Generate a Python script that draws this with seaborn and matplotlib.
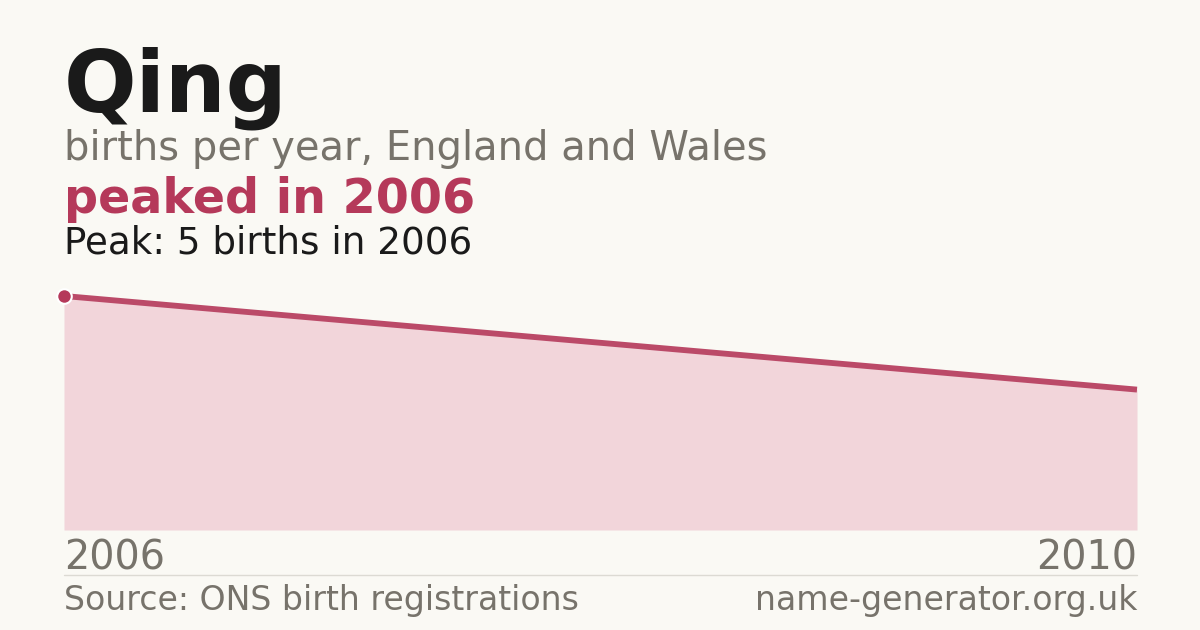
import numpy as np
import pandas as pd
import matplotlib
matplotlib.use('Agg')
import matplotlib.pyplot as plt
import seaborn as sns

# data
years = [2006, 2010]
births = [5, 3]
peak_year = 2006
peak_value = 5

name = 'Qing'
subtitle = 'births per year, England and Wales'
headline = 'peaked in 2006'
peak_note = 'Peak: 5 births in 2006'
source = 'Source: ONS birth registrations'
site = 'name-generator.org.uk'

bg = '#faf9f4'
red = '#b5395a'
fill = '#f2d5da'
grey = '#77736b'
dark = '#1a1a1a'

sns.set_theme(style='white')
plt.rcParams['font.family'] = ['DejaVu Sans']

W, H = 1200, 630
fig = plt.figure(figsize=(12, 6.3), dpi=100, facecolor=bg)

# axes placed in pixel terms: x 64..1137, y 296 (value 5) .. 530 (value 0)
ax = fig.add_axes([64 / W, 1 - 530 / H, (1137 - 64) / W, (530 - 296) / H])
ax.set_facecolor(bg)
df = pd.DataFrame({'year': years, 'births': births})
ax.fill_between(df['year'], df['births'], 0, color=fill, lw=0)
sns.lineplot(data=df, x='year', y='births', ax=ax, color='#bb4a68', lw=4.2,
             clip_on=False, solid_capstyle='butt')
ax.scatter([peak_year], [peak_value], s=110, color=red, edgecolor='white',
           linewidth=1.5, zorder=5, clip_on=False)
ax.set_xlim(min(years), max(years))
ax.set_ylim(0, peak_value)
ax.axis('off')


def px_text(x, y, s, **kw):
    fig.text(x / W, 1 - y / H, s, va='baseline', **kw)


px_text(64, 112, name, fontsize=61.6, fontweight='bold', color=dark)
px_text(64, 160, subtitle, fontsize=28.8, color=grey)
px_text(64, 213, headline, fontsize=34.3, fontweight='bold', color=red)
px_text(64, 253, peak_note, fontsize=26.8, color=dark)

px_text(64, 570, str(years[0]), fontsize=28.6, color=grey, ha='left')
px_text(1137, 570, str(years[-1]), fontsize=28.6, color=grey, ha='right')

fig.add_artist(plt.Line2D([64 / W, 1137 / W], [1 - 575 / H, 1 - 575 / H],
                          color='#dcdad3', lw=1))
px_text(64, 610, source, fontsize=23.9, color=grey, ha='left')
px_text(1137, 610, site, fontsize=23.9, color=grey, ha='right')

fig.savefig('out.png', dpi=100, facecolor=bg)
